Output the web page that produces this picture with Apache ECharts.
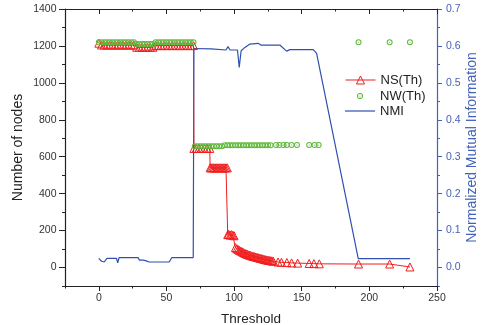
<!DOCTYPE html>
<html><head><meta charset="utf-8">
<script src="https://cdn.jsdelivr.net/npm/echarts@6/dist/echarts.min.js"></script>
<style>html,body{margin:0;padding:0;background:#fff}#c{width:482px;height:325px}</style>
</head><body><div id="c"></div><script>
// ---- data ----
const nsX = [0,2,4,6,8,10,12,14,16,18,20,22,24,26,28,30,32,34,36,38,40,42,44,46,48,50,52,54,56,58,60,62,64,66,68,70,
  70.3,72,74,76,78,80,82,
  82.3,83,84,85,86,87,88,89,90,91,92,93,94,95,
  95.3,96,97,98,99,100,
  101,102,103,104,105,106,107,108,109,110,111,112,113,114,115,116,117,118,119,120,121,122,123,124,125,126,127,128,129,
  132.5,135,139,142.5,147,155.5,159,163,192,215,230];
const nsY = [1215,1205,1205,1205,1205,1205,1205,1205,1205,1205,1205,1205,1205,1205,1193,1193,1193,1193,1193,1193,1193,1202,1202,1202,1202,1202,1202,1202,1202,1202,1202,1202,1202,1202,1202,1202,
  645,645,645,645,645,645,645,
  540,540,540,540,540,540,540,540,540,540,540,540,540,540,
  178,180,176,178,175,172,
  108,102,97,93,89,85,81,77,74,71,68,66,63,61,59,57,55,53,51,49,47,45,43,41,40,38,37,36,34,
  30,28,27,25,24,22,21,20,19,19,3];

const nwX = [0,2,4,6,8,10,12,14,16,18,20,22,24,26,28,30,32,34,36,38,40,42,44,46,48,50,52,54,56,58,60,62,64,66,68,70,
  71,73,75,77,79,81,83,85,87,89,91,93,95,97,99,101,103,105,107,109,111,113,115,117,119,121,123,125,127,
  131,133.5,136.5,139,142.5,146.5,155.5,159.5,162.5,
  192,215,230];
const nwY = [1220,1220,1220,1220,1220,1220,1220,1220,1220,1220,1220,1220,1220,1220,1210,1210,1210,1210,1210,1210,1210,1220,1220,1220,1220,1220,1220,1220,1220,1220,1220,1220,1220,1220,1220,1220,
  657,657,657,657,657,657,657,657,657,657,657,662,662,662,662,662,662,662,662,662,662,662,662,662,662,662,662,662,662,
  663,663,663,663,663,663,663,663,663,
  1220,1220,1220];

const nmiX = [0,1,2,3,4,5,6,13,14,15,29,30,33,34,35,37,52,54,69.8,70.3,83,94,95.5,97,102.5,103.8,105.2,108,111.7,117.8,120,134,138.8,141.3,158.5,161,191.8,230];
const nmiY = [0.025,0.02,0.017,0.022,0.015,0.02,0.025,0.025,0.013,0.027,0.027,0.02,0.02,0.023,0.018,0.015,0.015,0.027,0.027,0.593,0.592,0.589,0.598,0.589,0.589,0.542,0.587,0.596,0.605,0.607,0.602,0.602,0.586,0.59,0.59,0.58,0.024,0.024];

const xMajor = [0,50,100,150,200,250];
const xMinor = [-25,25,75,125,175,225];
const yLeftMajor = [0,200,400,600,800,1000,1200,1400];
const yLeftMinor = [-100,100,300,500,700,900,1100,1300];
const yRightMajor = [0,0.1,0.2,0.3,0.4,0.5,0.6,0.7];
const yRightMinor = [-0.05,0.05,0.15,0.25,0.35,0.45,0.55,0.65];

// ---- styling ----
const FONT = '"Liberation Sans", Arial, sans-serif';
const RED = '#f01e1e', GREEN = '#5fb83c', BLUE = '#2f50b0', BLUE_AX = '#4362b8', INK = '#222';
const ring = 'path://M0,-10A10,10 0 1,1 0,10A10,10 0 1,1 0,-10ZM0,-6.6A6.6,6.6 0 1,0 0,6.6A6.6,6.6 0 1,0 0,-6.6ZM0,-1.8A1.8,1.8 0 1,1 0,1.8A1.8,1.8 0 1,1 0,-1.8Z';
const barIcon = 'path://M0,0L30,0L30,1.2L0,1.2Z';

const zip = (a, b) => a.map((v, i) => [v, b[i]]);
const blank = {show:false};
function xAx(pos, ticks, len, inside, extra) {
  return Object.assign({type:'value', min:-25, max:250, position:pos,
    axisLine:{show:true, onZero:false, lineStyle:{color:INK, width:1.2}},
    axisTick:{customValues:ticks, length:len, inside:inside, lineStyle:{color:INK, width:1}},
    axisLabel:blank, splitLine:blank}, extra||{});
}
function yAx(pos, min, max, ticks, len, color, extra) {
  return Object.assign({type:'value', min:min, max:max, position:pos,
    axisLine:{show:true, onZero:false, lineStyle:{color:color, width:1.2}},
    axisTick:{customValues:ticks, length:len, lineStyle:{color:color, width:1}},
    axisLabel:blank, splitLine:blank}, extra||{});
}
const legText = {fontSize:13, color:INK, fontFamily:FONT};

const option = {
  animation:false,
  backgroundColor:'#fff',
  grid:{left:65, right:45, top:9, bottom:39, containLabel:false, outerBoundsMode:'none'},
  xAxis:[
    xAx('bottom', xMajor, 5, false, {
      axisLabel:{customValues:xMajor, margin:7, fontSize:10.5, color:'#333', fontFamily:FONT, formatter:v => String(v)},
      name:'Threshold', nameLocation:'middle', nameGap:26, nameMoveOverlap:false,
      nameTextStyle:{fontSize:13.5, color:INK, fontFamily:FONT}}),
    xAx('bottom', xMinor, 2.5, false, {axisLine:{show:false, onZero:false}}),
    xAx('top', xMajor, 5, true),
    xAx('top', xMinor, 2.5, true, {axisLine:{show:false, onZero:false}})
  ],
  yAxis:[
    yAx('left', -100, 1400, yLeftMajor, 6, INK, {
      axisLabel:{customValues:yLeftMajor, margin:8.5, fontSize:10.5, color:'#333', fontFamily:FONT, formatter:v => String(v)},
      name:'Number of nodes', nameLocation:'middle', nameGap:40, nameRotate:90, nameMoveOverlap:false,
      nameTextStyle:{fontSize:14, color:INK, fontFamily:FONT}}),
    yAx('right', -0.05, 0.7, yRightMajor, 5, BLUE_AX, {
      axisLabel:{customValues:yRightMajor, margin:9, fontSize:10.5, color:BLUE_AX, fontFamily:FONT,
        formatter:v => v.toFixed(1)},
      name:'Normalized Mutual Information', nameLocation:'middle', nameGap:28, nameRotate:90, nameMoveOverlap:false,
      nameTextStyle:{fontSize:14, color:BLUE_AX, fontFamily:FONT}}),
    yAx('left', -100, 1400, yLeftMinor, 3, INK, {axisLine:{show:false, onZero:false}}),
    yAx('right', -0.05, 0.7, yRightMinor, 3, BLUE_AX, {axisLine:{show:false, onZero:false}})
  ],
  legend:[
    {data:['NS(Th)'], orient:'vertical', left:345, top:73.5, padding:0, itemWidth:30, itemHeight:10,
     selectedMode:false, textStyle:legText, itemStyle:{borderWidth:1}, lineStyle:{width:1}},
    {data:['NW(Th)'], orient:'vertical', left:345, top:89.5, padding:0, itemWidth:30, itemHeight:7.5,
     selectedMode:false, textStyle:legText, itemStyle:{borderWidth:0}, lineStyle:{width:0, opacity:0}},
    {data:[{name:'NMI', icon:barIcon}], orient:'vertical', left:345, top:104.5, padding:0, itemWidth:30, itemHeight:10,
     selectedMode:false, textStyle:legText, itemStyle:{color:BLUE, borderWidth:0}, lineStyle:{width:1.2}}
  ],
  series:[
    {type:'line', name:'NMI', xAxisIndex:0, yAxisIndex:1, data:zip(nmiX, nmiY), symbol:'none',
     lineStyle:{color:BLUE, width:1.2}, itemStyle:{color:BLUE}, z:2, silent:true},
    {type:'line', name:'NS(Th)', xAxisIndex:0, yAxisIndex:0, data:zip(nsX, nsY), symbol:'triangle', symbolSize:8,
     showAllSymbol:true, lineStyle:{color:RED, width:1},
     itemStyle:{color:'rgba(255,255,255,0)', borderColor:RED, borderWidth:1}, z:3, silent:true},
    {type:'line', name:'NW(Th)', xAxisIndex:0, yAxisIndex:0, data:zip(nwX, nwY), symbol:ring, symbolSize:6,
     showAllSymbol:true, lineStyle:{width:0, opacity:0}, itemStyle:{color:GREEN}, z:4, silent:true}
  ]
};
const chart = echarts.init(document.getElementById('c'), null, {renderer:'canvas'});
chart.setOption(option);
</script></body></html>
